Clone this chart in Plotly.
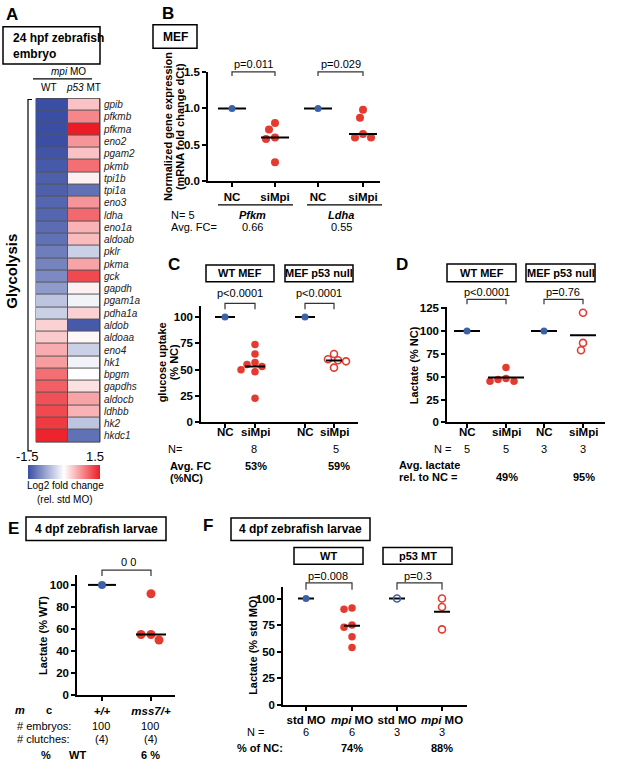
import numpy as np
import plotly.graph_objects as go

W, H = 617, 770
FONT = "Liberation Sans, Arial, sans-serif"
BLUE = "#3b62a8"
RED = "#e53a2f"

# ---- data ----
genes = ["gpib", "pfkmb", "pfkma", "eno2", "pgam2", "pkmb", "tpi1b", "tpi1a", "eno3", "ldha",
         "eno1a", "aldoab", "pklr", "pkma", "gck", "gapdh", "pgam1a", "pdha1a", "aldob", "aldoaa",
         "eno4", "hk1", "bpgm", "gapdhs", "aldocb", "ldhbb", "hk2", "hkdc1"]
hm_wt = [-1.5, -1.5, -1.5, -1.5, -1.45, -1.4, -1.35, -1.35, -1.3, -1.3,
         -1.25, -1.2, -1.1, -1.05, -1.0, -0.85, -0.5, -0.4, 0.3, 0.35,
         0.55, 0.65, 0.95, 1.05, 1.15, 1.2, 1.3, 1.45]
hm_p53 = [0.4, 0.8, 1.5, 0.7, 0.4, 0.95, 0.1, -1.2, 0.7, 1.0,
          0.5, 0.45, -0.4, 0.6, 1.2, 0.1, -0.1, 0.3, -1.4, 0.05,
          -0.4, -0.1, 0.0, 0.2, 0.6, 0.5, -0.5, -1.2]

b_pfkm_nc = [1.0]
b_pfkm_si = [0.80, 0.71, 0.60, 0.58, 0.26]
b_ldha_nc = [1.0]
b_ldha_si = [0.98, 0.87, 0.65, 0.60, 0.60]

c_wt_nc = [100]
c_wt_si = [74, 65, 57, 55, 53, 50, 48, 23]
c_p53_nc = [100]
c_p53_si = [65, 60, 59, 58, 52]

d_wt_nc = [100]
d_wt_si = [60, 48, 47, 45, 45]
d_p53_nc = [100]
d_p53_si = [120, 87, 79]

e_wt = [100]
e_mss7 = [92, 55, 55, 50]

f_wt_std = [100]
f_wt_mpi = [91, 90, 75, 73, 64, 54]
f_p53_std = [100]
f_p53_mpi = [100, 92, 71]


def px(x):
    return x / W


def py(y):
    return 1 - y / H


annotations = []
shapes = []


def text(s, x, y, size=11, bold=False, xanchor="center", angle=0, italic=False):
    annotations.append(dict(
        text=s, x=px(x), y=py(y), xref="paper", yref="paper", showarrow=False,
        xanchor=xanchor, yanchor="middle", textangle=angle,
        font=dict(family=FONT, size=size, color="black",
                  weight="bold" if bold else "normal",
                  style="italic" if italic else "normal")))


def box(x0, y0, x1, y1):
    shapes.append(dict(type="rect", xref="paper", yref="paper",
                       x0=px(x0), x1=px(x1), y0=py(y1), y1=py(y0),
                       line=dict(color="black", width=1.5)))


def hline(x0, x1, y, w=1.2):
    shapes.append(dict(type="line", xref="paper", yref="paper",
                       x0=px(x0), x1=px(x1), y0=py(y), y1=py(y),
                       line=dict(color="black", width=w)))


def bracket(x0, x1, y, drop=6):
    path = (f"M {px(x0)},{py(y + drop)} L {px(x0)},{py(y)} "
            f"L {px(x1)},{py(y)} L {px(x1)},{py(y + drop)}")
    shapes.append(dict(type="path", xref="paper", yref="paper", path=path,
                       line=dict(color="#333", width=1.2)))


def swarm(vals, ppu, d):
    # simple beeswarm: horizontal pixel offsets so dots don't overlap
    ys = np.array(vals, float) * ppu
    order = np.argsort(-ys, kind="stable")
    offs = np.zeros(len(ys))
    placed = []
    for i in order:
        chosen = 0
        for step in range(0, 60):
            cands = [0] if step == 0 else [-step, step]
            found = None
            for c in cands:
                if all((c - ox) ** 2 + (ys[i] - oy) ** 2 >= d * d for ox, oy in placed):
                    found = c
                    break
            if found is not None:
                chosen = found
                break
        offs[i] = chosen
        placed.append((chosen, ys[i]))
    return offs


fig = go.Figure()
layout = {}

# ---- panel A heatmap ----
fig.add_trace(go.Heatmap(
    z=np.array([hm_wt, hm_p53]).T, x=["WT", "p53 MT"], y=genes,
    zmin=-1.5, zmax=1.5, xgap=1, ygap=1,
    colorscale=[[0, "#3a4ea3"], [0.5, "#ffffff"], [1, "#ec1c24"]],
    colorbar=dict(orientation="h", x=px(64), xanchor="center", y=py(473), yanchor="middle",
                  len=72, lenmode="pixels", thickness=14, showticklabels=False,
                  ticks="", outlinewidth=0, xpad=0, ypad=0),
    hoverinfo="skip", xaxis="x", yaxis="y"))
layout["xaxis"] = dict(domain=[px(36), px(100)], showticklabels=False, showgrid=False,
                       zeroline=False, anchor="y", fixedrange=True)
layout["yaxis"] = dict(domain=[py(443), py(94)], autorange="reversed", side="right",
                       showgrid=False, zeroline=False, ticks="", anchor="x",
                       ticklabelstandoff=3,
                       tickfont=dict(family=FONT, size=10, style="italic", color="#222"))
shapes.append(dict(type="rect", xref="paper", yref="paper", layer="below",
                   x0=px(36), x1=px(100), y0=py(443), y1=py(94),
                   fillcolor="#555", line=dict(color="#444", width=1)))

text("A", 12, 9, 17, bold=True)
box(3, 21, 100, 59)
text("24 hpf zebrafish", 11, 32, 12, bold=True, xanchor="left")
text("embryo", 11, 49, 12, bold=True, xanchor="left")
text("<i>mpi</i> MO", 68, 67, 10)
hline(33, 92, 74)
text("WT", 49, 83, 10)
text("<i>p53</i> MT", 83, 83, 10)
shapes.append(dict(type="path", xref="paper", yref="paper",
                   path=f"M {px(32)},{py(95)} L {px(28)},{py(95)} L {px(28)},{py(452)} L {px(32)},{py(452)}",
                   line=dict(color="black", width=1.2)))
text("Glycolysis", 12, 270, 15, bold=True, angle=-90)
text("-1.5", 27, 458, 13)
text("1.5", 95, 458, 13)
text("Log2 fold change", 65, 487, 10)
text("(rel. std MO)", 65, 501, 10)

# ---- scatter panels ----
TICKFONT = dict(family=FONT, size=11.5, weight="bold", color="black")


def axes(n, left, right, top, bottom, ymax, yticks, ylabels, cats, catlabels, show_cats=True):
    layout[f"xaxis{n}"] = dict(
        domain=[px(left), px(right)], range=[left, right], anchor=f"y{n}",
        showline=True, linecolor="black", linewidth=1.5, ticks="outside", ticklen=4,
        tickwidth=1.5, tickcolor="black", tickvals=cats, ticktext=catlabels,
        showticklabels=show_cats,
        tickfont=TICKFONT, showgrid=False, zeroline=False, fixedrange=True)
    layout[f"yaxis{n}"] = dict(
        domain=[py(bottom), py(top)], range=[0, ymax], anchor=f"x{n}",
        showline=True, linecolor="black", linewidth=1.5, ticks="outside", ticklen=4,
        tickwidth=1.5, tickcolor="black", tickvals=yticks, ticktext=ylabels,
        tickfont=TICKFONT, showgrid=False, zeroline=False, fixedrange=True)
    return (bottom - top) / ymax


def group(n, cx, vals, ppu, color, size=8, half=14, stat=np.mean, hollow=False, line_first=False):
    m = float(stat(vals))
    line = go.Scatter(x=[cx - half, cx + half], y=[m, m], mode="lines",
                      line=dict(color="black", width=2), xaxis=f"x{n}", yaxis=f"y{n}",
                      hoverinfo="skip", showlegend=False)
    offs = swarm(vals, ppu, size + 0.5)
    marker = dict(color=color, size=size, symbol="circle-open" if hollow else "circle",
                  line=dict(color=color, width=1.6 if hollow else 0))
    dots = go.Scatter(x=cx + offs, y=vals, mode="markers", marker=marker,
                      xaxis=f"x{n}", yaxis=f"y{n}", showlegend=False)
    if line_first:
        fig.add_trace(line)
        fig.add_trace(dots)
    else:
        fig.add_trace(dots)
        fig.add_trace(line)


# B
bx = [232, 275, 318, 363]
ppu = axes(2, 208, 380, 67, 178, 1.5, [0, 0.5, 1.0, 1.5], ["0.0", "0.5", "1.0", "1.5"],
           bx, ["NC", "siMpi", "NC", "siMpi"])
group(2, bx[0], b_pfkm_nc, ppu, BLUE, 7, 14, np.median, line_first=True)
group(2, bx[1], b_pfkm_si, ppu, RED, 8, 14, np.median)
group(2, bx[2], b_ldha_nc, ppu, BLUE, 7, 14, np.median, line_first=True)
group(2, bx[3], b_ldha_si, ppu, RED, 8, 14, np.median)

text("B", 168, 8, 17, bold=True)
box(153, 19, 197, 43)
text("MEF", 175, 31, 12, bold=True)
text("Normalized gene expression", 168, 122, 11, bold=True, angle=-90)
text("(mRNA fold change dCt)", 180, 122, 11, bold=True, angle=-90)
text("p=0.011", 253, 59, 11)
bracket(bx[0], bx[1], 67, 4)
text("p=0.029", 341, 59, 11)
bracket(bx[2], bx[3], 67, 4)
hline(218, 293, 202)
hline(307, 382, 202)
text("N= 5", 169, 212, 11, xanchor="left")
text("<b><i>Pfkm</i></b>", 252, 212, 11)
text("<b><i>Ldha</i></b>", 341, 212, 11)
text("Avg. FC=", 169, 224, 11, xanchor="left")
text("0.66", 252, 224, 11)
text("0.55", 341, 224, 11)

# C
cx = [225, 255, 305, 334]
ppu = axes(3, 201, 358, 305, 423, 110.3, [0, 25, 50, 75, 100], ["0", "25", "50", "75", "100"],
           cx, None, show_cats=False)
group(3, cx[0], c_wt_nc, ppu, BLUE, 7, 10, line_first=True)
group(3, cx[1], c_wt_si, ppu, RED, 7.5, 10)
group(3, cx[2], c_p53_nc, ppu, BLUE, 7, 10, line_first=True)
group(3, cx[3], c_p53_si, ppu, RED, 7, 8, hollow=True)
for xx, s in zip(cx, ["NC", "siMpi", "NC", "siMpi"]):
    text(s, xx, 433, 11.5, bold=True)

text("C", 174, 263, 17, bold=True)
box(206, 263, 274, 280)
text("WT MEF", 240, 271.5, 11, bold=True)
box(285, 263, 353, 280)
text("MEF p53 null", 319, 271.5, 11, bold=True)
text("p&lt;0.0001", 240, 292, 11)
bracket(cx[0], cx[1], 302, 6)
text("p&lt;0.0001", 319, 292, 11)
bracket(cx[2], cx[3], 302, 6)
text("glucose uptake", 162, 362, 11, bold=True, angle=-90)
text("(% NC)", 174, 362, 11, bold=True, angle=-90)
text("N=", 175, 450, 11)
text("8", 254, 450, 11)
text("5", 336, 450, 11)
text("Avg. FC", 168, 467, 11, bold=True, xanchor="left")
text("(%NC)", 168, 479, 11, bold=True, xanchor="left")
text("53%", 256, 467, 11, bold=True)
text("59%", 339, 467, 11, bold=True)

# D
dx = [467, 506, 544, 583]
ppu = axes(4, 447, 605, 306, 423, 126, [0, 25, 50, 75, 100, 125],
           ["0", "25", "50", "75", "100", "125"], dx, None, show_cats=False)
group(4, dx[0], d_wt_nc, ppu, BLUE, 7, 13, line_first=True)
group(4, dx[1], d_wt_si, ppu, RED, 7.5, 18)
group(4, dx[2], d_p53_nc, ppu, BLUE, 7, 13, line_first=True)
group(4, dx[3], d_p53_si, ppu, RED, 7, 13, hollow=True)
for xx, s in zip(dx, ["NC", "siMpi", "NC", "siMpi"]):
    text(s, xx, 433, 11.5, bold=True)

text("D", 402, 263, 17, bold=True)
box(447, 262, 516, 280)
text("WT MEF", 481.5, 271, 11, bold=True)
box(526, 262, 595, 280)
text("MEF p53 null", 560.5, 271, 11, bold=True)
text("p&lt;0.0001", 487, 291, 11)
bracket(dx[0], dx[1], 298, 5)
text("p=0.76", 563, 291, 11)
bracket(dx[2], dx[3], 298, 5)
text("Lactate (% NC)", 414, 365, 11, bold=True, angle=-90)
text("N =", 442, 450, 11)
for xx, s in zip(dx, ["5", "5", "3", "3"]):
    text(s, xx, 450, 11)
text("Avg. lactate", 397, 466, 11, bold=True, xanchor="left")
text("rel. to NC =", 397, 478, 11, bold=True, xanchor="left")
text("49%", 507, 478, 11, bold=True)
text("95%", 584, 478, 11, bold=True)

# E
ex = [102, 151]
ppu = axes(5, 77, 175, 578, 700, 109, [0, 20, 40, 60, 80, 100],
           ["0", "20", "40", "60", "80", "100"], ex, ["<i>+/+</i>", "<i>mss7/+</i>"])
group(5, ex[0], e_wt, ppu, BLUE, 8, 14, np.median, line_first=True)
group(5, ex[1], e_mss7, ppu, RED, 9, 15, np.median)

text("E", 13, 531, 17, bold=True)
box(26, 519, 166, 543)
text("4 dpf zebrafish larvae", 96, 531, 12, bold=True)
text("0 0", 128, 565, 11)
bracket(ex[0], ex[1], 573, 6)
text("Lactate (% WT)", 43, 640, 11, bold=True, angle=-90)
text("<i>m</i>", 20, 715, 11, bold=True)
text("c", 49, 715, 11, bold=True)
text("# embryos:", 15, 731, 11, xanchor="left")
text("100", 101, 731, 11)
text("100", 150, 731, 11)
text("# clutches:", 15, 745, 11, xanchor="left")
text("(4)", 101, 745, 11)
text("(4)", 150, 745, 11)
text("%", 46, 761, 11, bold=True)
text("WT", 77, 761, 11, bold=True)
text("6 %", 150, 761, 11, bold=True)

# F
fx = [306, 352, 397, 442]
ppu = axes(6, 283, 467, 590, 710, 111, [0, 25, 50, 75, 100], ["0", "25", "50", "75", "100"],
           fx, ["std MO", "<i>mpi</i> MO", "std MO", "<i>mpi</i> MO"])
group(6, fx[0], f_wt_std, ppu, BLUE, 7, 8, line_first=True)
group(6, fx[1], f_wt_mpi, ppu, RED, 7.5, 8)
group(6, fx[2], f_p53_std, ppu, BLUE, 7, 8, hollow=True, line_first=True)
group(6, fx[3], f_p53_mpi, ppu, RED, 7, 8, hollow=True)

text("F", 208, 528, 17, bold=True)
box(231, 520, 370, 543)
text("4 dpf zebrafish larvae", 300, 531, 12, bold=True)
box(294, 550, 363, 567)
text("WT", 328.5, 558.5, 11, bold=True)
box(383, 550, 452, 567)
text("p53 MT", 417.5, 558.5, 11, bold=True)
text("p=0.008", 328, 579, 11)
bracket(fx[0], fx[1], 586, 7)
text("p=0.3", 418, 579, 11)
bracket(fx[2], fx[3], 586, 7)
text("Lactate (% std MO)", 253, 650, 11, bold=True, angle=-90)
text("N =", 255, 737, 11)
for xx, s in zip(fx, ["6", "6", "3", "3"]):
    text(s, xx, 737, 11)
text("% of NC:", 260, 754, 11, bold=True)
text("74%", 352, 754, 11, bold=True)
text("88%", 442, 754, 11, bold=True)

fig.update_layout(
    width=W, height=H, margin=dict(l=0, r=0, t=0, b=0),
    paper_bgcolor="white", plot_bgcolor="rgba(0,0,0,0)",
    font=dict(family=FONT, color="black"),
    showlegend=False, annotations=annotations, shapes=shapes, **layout)

fig.write_html("out.html", config={"displayModeBar": False},
               post_script="document.body.style.margin='0';")
